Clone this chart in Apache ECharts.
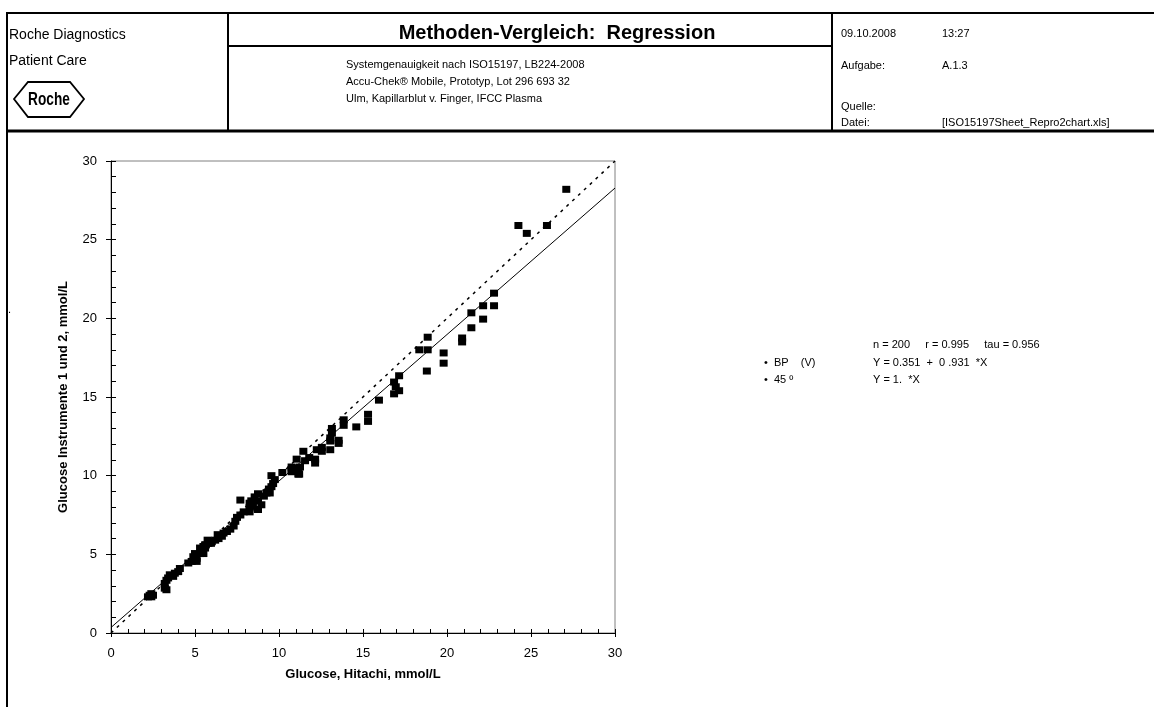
<!DOCTYPE html>
<html>
<head>
<meta charset="utf-8">
<title>Methoden-Vergleich: Regression</title>
<script src="https://cdn.jsdelivr.net/npm/echarts@6/dist/echarts.min.js"></script>
<style>
  html, body { margin: 0; padding: 0; background: #fff; }
  #chart { width: 1154px; height: 707px; }
</style>
</head>
<body>
<div id="chart"></div>
<script>
// Hitachi reference values (x) and meter values (y)
const hitachiX = [
  27.1, 24.25, 24.75, 25.95,
  22.8, 22.15, 22.8, 21.45, 22.15, 21.45, 20.9, 20.9,
  18.85, 18.35, 18.85, 19.8, 19.8, 18.8,
  17.15, 16.85, 16.95, 17.15, 16.85,
  15.95, 15.3, 15.3, 14.6, 13.85, 13.85, 13.15, 13.15, 13.05, 13.05, 13.55, 13.55,
  12.55, 12.55, 13.05, 12.25, 11.45, 11.8, 12.15, 12.15, 11.55, 11.25, 10.75, 11.2, 10.95,
  11.05, 10.75, 10.75, 11.15, 11.15, 10.2, 9.55, 9.75, 9.65, 9.55, 9.4, 9.25, 9.1, 9.45,
  8.75, 8.55, 8.35, 8.25, 7.7, 8.75, 8.95, 8.75, 8.25, 8.25, 8.45, 7.9, 7.7, 7.5, 7.4,
  7.3, 7.1, 6.9, 6.7, 6.6, 6.4, 6.2, 6.0, 5.8, 5.6, 5.5, 5.3,
  6.35, 5.75, 5.95, 5.65, 5.6, 5.4, 5.3, 5.5, 5.0, 4.9, 5.1, 5.1, 4.8, 4.6,
  4.1, 4.0, 3.8, 3.7, 3.5, 3.4, 3.3, 3.2, 3.2, 3.3, 2.4, 2.3, 2.5, 2.4, 2.2
];
const meterY = [
  28.2, 25.9, 25.4, 25.9,
  21.6, 20.8, 20.8, 20.35, 19.95, 19.4, 18.75, 18.5,
  18.8, 18.0, 18.0, 17.8, 17.15, 16.65,
  16.35, 15.95, 15.65, 15.4, 15.2,
  14.8, 13.9, 13.45, 13.1, 13.55, 13.2, 13.0, 12.7, 12.4, 12.2, 12.25, 12.05,
  11.8, 11.55, 11.65, 11.65, 11.55, 11.15, 11.05, 10.8, 10.95, 10.55, 10.4, 10.1, 10.35,
  11.05, 10.55, 10.25, 10.5, 10.1, 10.2, 10.0, 9.75, 9.5, 9.3, 9.15, 8.9, 8.7, 8.9,
  8.85, 8.65, 8.4, 8.25, 8.45, 8.4, 8.15, 7.85, 7.95, 7.7, 8.05, 7.7, 7.5, 7.35, 7.1,
  6.8, 6.6, 6.45, 6.35, 6.15, 6.0, 5.9, 5.8, 5.7, 5.6, 5.5, 5.4,
  6.25, 5.9, 5.7, 5.6, 5.4, 5.3, 5.05, 5.05, 5.05, 4.85, 4.75, 4.55, 4.55, 4.45,
  4.1, 3.9, 3.8, 3.6, 3.7, 3.5, 3.35, 3.15, 2.85, 2.75, 2.5, 2.4, 2.4, 2.3, 2.3
];

// Passing-Bablok regression and identity line
const regIntercept = 0.351;
const regSlope = 0.931;
const lineX = [0, 30];

const FONT = "'Liberation Sans', Arial, sans-serif";

const points = hitachiX.map((x, i) => [x, meterY[i]]);
const regLine = lineX.map((x) => [x, regIntercept + regSlope * x]);
const diagLine = lineX.map((x) => [x, x]);

// Kopfzeile (Rahmen und Texte)
function txt(text, x, y, size, opts) {
  opts = opts || {};
  return {
    type: "text",
    x: x,
    y: y,
    scaleX: opts.scaleX || 1,
    silent: true,
    style: {
      text: text,
      fill: "#000",
      font: (opts.bold ? "bold " : "") + size + "px " + (opts.family || FONT),
      textAlign: opts.align || "left",
      align: opts.align || "left",
      textVerticalAlign: "middle",
      verticalAlign: "middle"
    }
  };
}
function ln(x1, y1, x2, y2, w) {
  return {
    type: "line",
    silent: true,
    shape: { x1: x1, y1: y1, x2: x2, y2: y2 },
    style: { stroke: "#000", lineWidth: w || 2 }
  };
}

const header = [
  ln(7, 13, 1154, 13, 2),
  ln(7, 12, 7, 707, 2),
  ln(6, 131, 1154, 131, 3),
  ln(228, 13, 228, 131, 2),
  ln(832, 13, 832, 131, 2),
  ln(228, 46, 832, 46, 2),
  txt("Roche Diagnostics", 9, 35, 14),
  txt("Patient Care", 9, 61, 14),
  {
    type: "polygon",
    silent: true,
    shape: { points: [[14, 99], [28, 82], [70, 82], [84, 99], [70, 117], [28, 117]] },
    style: { fill: "none", stroke: "#000", lineWidth: 1.8 }
  },
  txt("Roche", 49, 100, 19, { bold: true, align: "center", scaleX: 0.72 }),
  txt("Methoden-Vergleich:  Regression", 557, 33, 20, { bold: true, align: "center" }),
  txt("Systemgenauigkeit nach ISO15197, LB224-2008", 346, 65, 11),
  txt("Accu-Chek\u00ae Mobile, Prototyp, Lot 296 693 32", 346, 82, 11),
  txt("Ulm, Kapillarblut v. Finger, IFCC Plasma", 346, 99, 11),
  txt("09.10.2008", 841, 34, 11),
  txt("13:27", 942, 34, 11),
  txt("Aufgabe:", 841, 66, 11),
  txt("A.1.3", 942, 66, 11),
  txt("Quelle:", 841, 107, 11),
  txt("Datei:", 841, 123, 11),
  txt("[ISO15197Sheet_Repro2chart.xls]", 942, 123, 11),
  txt(".", 8, 310, 11),
  // Statistik rechts
  txt("n = 200     r = 0.995     tau = 0.956", 873, 345, 11),
  txt("\u2022  BP    (V)", 764, 363, 11),
  txt("Y = 0.351  +  0 .931  *X", 873, 363, 11),
  txt("\u2022  45 \u00ba", 764, 380, 11),
  txt("Y = 1.  *X", 873, 380, 11)
];

const chart = echarts.init(document.getElementById("chart"));

const axisCommon = {
  type: "value",
  min: 0,
  max: 30,
  interval: 5,
  splitLine: { show: false }
};

chart.setOption({
  animation: false,
  backgroundColor: "#fff",
  textStyle: { fontFamily: FONT },
  grid: {
    left: 111,
    right: 539,
    top: 161,
    bottom: 74,
    show: true,
    borderColor: "#808080",
    borderWidth: 1
  },
  xAxis: [
    Object.assign({}, axisCommon, {
      position: "bottom",
      name: "Glucose, Hitachi, mmol/L",
      nameLocation: "middle",
      nameGap: 35,
      nameTextStyle: { fontSize: 13, fontWeight: "bold", color: "#000" },
      axisLine: { onZero: false, lineStyle: { color: "#000", width: 1 } },
      axisTick: { show: true, inside: false, length: 4, lineStyle: { color: "#000" } },
      axisLabel: { fontSize: 13, color: "#000", margin: 14 }
    }),
    Object.assign({}, axisCommon, {
      position: "bottom",
      axisLine: { show: false },
      axisLabel: { show: false },
      axisTick: { show: true, inside: true, length: 4, lineStyle: { color: "#000" } },
      minorTick: { show: true, splitNumber: 5, length: 4, lineStyle: { color: "#000" } }
    })
  ],
  yAxis: [
    Object.assign({}, axisCommon, {
      position: "left",
      name: "Glucose Instrumente 1 und 2, mmol/L",
      nameLocation: "middle",
      nameGap: 41,
      nameTextStyle: { fontSize: 13, fontWeight: "bold", color: "#000" },
      axisLine: { onZero: false, lineStyle: { color: "#000", width: 1 } },
      axisTick: { show: true, inside: false, length: 5, lineStyle: { color: "#000" } },
      axisLabel: { fontSize: 13, color: "#000", margin: 14 }
    }),
    Object.assign({}, axisCommon, {
      position: "left",
      axisLine: { show: false },
      axisLabel: { show: false },
      axisTick: { show: true, inside: true, length: 5, lineStyle: { color: "#000" } },
      minorTick: { show: true, splitNumber: 5, length: 5, lineStyle: { color: "#000" } }
    })
  ],
  series: [
    {
      name: "45 º",
      type: "line",
      data: diagLine,
      symbol: "none",
      lineStyle: { color: "#000", width: 1.5, type: [3, 5] },
      z: 2
    },
    {
      name: "BP (V)",
      type: "line",
      data: regLine,
      symbol: "none",
      lineStyle: { color: "#000", width: 1 },
      z: 2
    },
    {
      name: "Messwerte",
      type: "scatter",
      data: points,
      symbol: "rect",
      symbolSize: [8, 7],
      itemStyle: { color: "#000", opacity: 1 },
      z: 3
    }
  ],
  graphic: header
});
</script>
</body>
</html>
